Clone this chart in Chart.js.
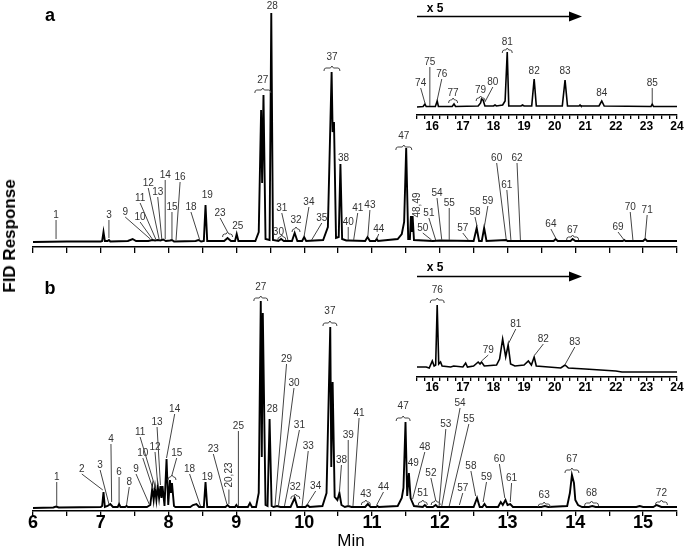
<!DOCTYPE html>
<html>
<head>
<meta charset="utf-8">
<title>FID chromatograms a / b</title>
<script src="https://cdn.jsdelivr.net/npm/chart.js@4.4.1/dist/chart.umd.min.js"></script>
<style>
  html, body { margin: 0; background: #fff; }
  #fig { position: relative; width: 685px; height: 549px; overflow: hidden; font-family: Arial, "Liberation Sans", sans-serif; }
  #fig canvas { position: absolute; }
  .txt { position: absolute; transform: translate(-50%, -50%); white-space: nowrap; color: #000; }
  #arrows { position: absolute; left: 0; top: 0; pointer-events: none; }
</style>
</head>
<body>
<div id="fig">
  <canvas id="mainA"  width="685" height="260" style="left:0;top:0"></canvas>
  <canvas id="mainB"  width="685" height="279" style="left:0;top:270px"></canvas>
  <canvas id="insetA" width="285" height="105" style="left:400px;top:30px"></canvas>
  <canvas id="insetB" width="285" height="120" style="left:400px;top:280px"></canvas>

  <div class="txt" style="left:50px;top:15px;font:bold 18px Arial">a</div>
  <div class="txt" style="left:50px;top:288px;font:bold 18px Arial">b</div>
  <div class="txt" style="left:10px;top:236px;font:bold 17px Arial;transform:translate(-50%,-50%) rotate(-90deg)">FID Response</div>
  <div class="txt" style="left:351px;top:541px;font:17px Arial">Min</div>
  <div class="txt" style="left:435px;top:8px;font:bold 12px Arial">x 5</div>
  <div class="txt" style="left:435px;top:267px;font:bold 12px Arial">x 5</div>

  <svg id="arrows" width="685" height="549">
    <line x1="417" y1="16.5" x2="570" y2="16.5" stroke="#000" stroke-width="1.5"/>
    <polygon points="569,11.5 582,16.5 569,21.5" fill="#000"/>
    <line x1="417" y1="276.5" x2="570" y2="276.5" stroke="#000" stroke-width="1.5"/>
    <polygon points="569,271.5 582,276.5 569,281.5" fill="#000"/>
  </svg>
</div>

<script>
'use strict';

// ── Data: retention time (min) vs. FID response (arbitrary units) ──
// panel a, 6 – 15.5 min
const traceA = [
  [6.0,0],[6.5,0.5],[7.0,0.5],[7.02,1],[7.04,10],[7.06,1],[7.10,1],[7.12,2],[7.14,0.5],
  [7.40,1],[7.47,3],[7.52,1],[7.70,1],[7.76,2],[7.80,1.5],[7.84,2],[7.88,1.5],[7.92,2.5],
  [7.96,1],[8.02,1.5],[8.05,2],[8.08,0.5],[8.40,1],[8.44,2],[8.48,0.5],[8.52,1],[8.545,37],
  [8.57,1],[8.82,1],[8.87,4],[8.92,1],[8.98,1],[9.005,8],[9.03,1],[9.28,1],[9.33,10],
  [9.365,132],[9.38,59],[9.40,147],[9.43,3],[9.49,2],[9.515,229],[9.54,2],[9.62,1],[9.66,3],
  [9.70,1],[9.82,1],[9.86,9],[9.90,1],[9.97,1],[10.0,5],[10.03,1],[10.28,2],[10.35,15],
  [10.405,170],[10.42,110],[10.44,120],[10.47,4],[10.51,5],[10.535,78],[10.56,3],[10.62,1.5],
  [10.66,1.5],[10.9,1],[10.935,5],[10.97,1],[11.05,1],[11.07,3],[11.09,1],[11.38,3],[11.44,8],
  [11.475,20],[11.505,94],[11.535,3],[11.56,3],[11.575,26],[11.59,10],[11.60,26],[11.62,2],
  [11.9,1],[12.0,1.5],[12.5,1],[12.545,14],[12.58,1],[12.62,1],[12.655,14],[12.69,1],
  [12.98,2],[13.0,1],[13.68,1],[13.71,3],[13.74,1],[13.93,1],[13.96,3],[14.0,1],[14.70,1],
  [14.72,2],[14.74,1],[15.0,1],[15.03,3],[15.06,1],[15.5,1],
];
// panel a inset (x5), 15.5 – 24 min
const traceA5 = [
  [15.5,0],[15.7,0.5],[15.76,3],[15.8,0.5],[16.1,0.5],[16.16,6],[16.2,0.5],[16.65,0.5],
  [16.71,3],[16.76,0.5],[17.5,1],[17.58,4],[17.61,8],[17.66,7],[17.72,1],[18.0,1],[18.05,2],
  [18.1,1],[18.3,2],[18.38,6],[18.45,55],[18.5,1],[18.9,1],[18.95,2],[19.0,1],[19.25,1],
  [19.33,28],[19.4,1],[20.25,1],[20.34,27],[20.42,1],[20.8,1],[20.83,2],[20.86,1],[21.45,1],
  [21.54,6],[21.62,1],[23.15,0.5],[23.19,3],[23.23,0.5],[24,0.5],
];
// panel b, 6 – 15.5 min
const traceB = [
  [6,0],[6.3,0.5],[6.34,1.5],[6.38,0.5],[7.0,1],[7.02,2],[7.04,16],[7.06,1],[7.10,2],[7.14,4],
  [7.18,1],[7.25,1],[7.27,4],[7.29,1],[7.36,1],[7.38,2],[7.40,1],[7.68,1],[7.73,3],[7.76,20],
  [7.78,8],[7.80,20],[7.82,8],[7.84,22],[7.86,10],[7.88,22],[7.895,10],[7.91,22],[7.94,2],
  [7.97,49],[7.995,3],[8.02,28],[8.035,15],[8.05,25],[8.08,2],[8.1,1],[8.32,1],[8.36,3],
  [8.41,4],[8.45,1],[8.52,1],[8.545,26],[8.57,1],[8.84,1],[8.87,3],[8.9,1],[8.98,1],[9.0,3],
  [9.02,1],[9.17,1],[9.2,5],[9.23,1],[9.29,1],[9.33,15],[9.36,207],[9.375,51],[9.39,195],
  [9.43,3],[9.46,2],[9.49,89],[9.52,2],[9.55,1],[9.6,2],[9.65,1],[9.8,1],[9.86,10],[9.9,1],
  [10.02,1],[10.05,3],[10.08,1],[10.27,2],[10.33,15],[10.385,181],[10.40,41],[10.42,126],
  [10.45,11],[10.49,8],[10.52,15],[10.55,3],[10.6,1],[10.65,2],[10.7,1],[10.9,1],[10.94,4],
  [10.98,1],[11.06,1],[11.08,2],[11.1,1],[11.38,2],[11.44,10],[11.465,20],[11.495,86],
  [11.52,12],[11.545,35],[11.57,10],[11.6,5],[11.62,2],[11.75,1],[11.78,3],[11.81,1],[11.9,1],
  [11.94,3],[11.97,1],[12.5,1],[12.55,10],[12.59,1],[12.63,1],[12.66,4],[12.69,1],[12.86,1],
  [12.9,6],[12.93,3],[12.97,8],[13.0,3],[13.04,4],[13.08,1],[13.5,1],[13.55,2],[13.6,1],
  [13.88,2],[13.92,15],[13.95,33],[13.98,25],[14.0,8],[14.04,3],[14.1,1],[14.2,1],[14.25,2],
  [14.3,1],[14.9,1],[14.95,2],[15.0,1],[15.15,1],[15.2,3],[15.27,1],[15.5,1],
];
// panel b inset (x5), 15.5 – 24 min
const traceB5 = [
  [15.5,0],[15.8,0],[15.9,-1],[16.0,6],[16.06,1],[16.11,2],[16.16,62],[16.21,3],[16.27,5],
  [16.32,1],[16.6,0],[16.7,1],[17.0,0],[17.09,4],[17.15,0],[17.35,1],[17.5,5],[17.56,3],
  [17.61,5],[17.7,1],[18.1,2],[18.2,8],[18.3,28],[18.4,10],[18.48,22],[18.56,3],[18.7,1],
  [19.0,2],[19.14,6],[19.24,2],[19.33,10],[19.4,1],[19.8,0],[20.2,-1],[20.34,2],[20.45,-1],
  [21.0,-2],[21.5,-3],[22.0,-4],[22.2,-5],[23.0,-5],[24,-5],
];

// ── Peak annotations: [text, labelT, labelH, mode, tipT, tipH, braceW] ──
// mode: plain | line (leader to tip) | brace (bracket at tip) | lbrace (leader + bracket) | rot
const peaksA = [
  ['1',6.34,27,'line',6.34,2], ['3',7.12,27,'line',7.12,3], ['9',7.36,30,'line',7.73,2],
  ['10',7.58,25,'line',7.76,2], ['11',7.58,44,'line',7.81,2], ['12',7.70,59,'line',7.86,2],
  ['13',7.84,50,'line',7.90,2], ['14',7.95,67,'line',7.95,2], ['15',8.05,35,'line',8.05,2],
  ['16',8.17,65,'line',8.11,1], ['18',8.33,35,'line',8.46,1], ['19',8.57,47,'plain'],
  ['23',8.76,29,'lbrace',8.87,8,10], ['25',9.02,16,'plain'], ['27',9.39,162,'brace',9.39,152,16],
  ['28',9.53,236,'plain'], ['30',9.62,10,'brace',9.67,5,8], ['31',9.67,34,'line',9.76,1],
  ['32',9.88,22,'brace',9.88,13,8], ['34',10.07,40,'line',10.0,5], ['35',10.26,24,'line',10.11,1],
  ['37',10.41,185,'brace',10.41,174,16], ['38',10.58,84,'plain'], ['40',10.65,20,'line',10.65,1],
  ['41',10.79,34,'line',10.73,1], ['43',10.97,37,'line',10.94,5], ['44',11.10,13,'line',11.07,2],
  ['47',11.47,106,'brace',11.47,95,16], ['48,49',11.67,37,'rot'], ['50',11.75,14,'line',11.88,1],
  ['51',11.84,29,'line',11.94,1], ['54',11.96,49,'line',12.03,1], ['55',12.14,39,'line',12.14,1],
  ['57',12.34,14,'line',12.42,1], ['58',12.52,30,'line',12.55,15], ['59',12.71,41,'line',12.66,15],
  ['60',12.84,84,'line',12.98,2], ['61',12.99,57,'line',13.05,1], ['62',13.14,84,'line',13.19,1],
  ['64',13.64,18,'line',13.71,3], ['67',13.96,12,'brace',13.96,5,12], ['69',14.63,15,'line',14.72,1],
  ['70',14.81,35,'line',14.85,1], ['71',15.06,32,'line',15.03,3],
];
const peaksA5 = [
  ['74',15.62,24,'line',15.76,3], ['75',15.92,45,'line',15.92,0], ['76',16.31,33,'line',16.16,6],
  ['77',16.68,14,'brace',16.68,7,9], ['79',17.58,17,'brace',17.58,9,9], ['80',17.98,25,'line',17.72,4],
  ['81',18.45,65,'brace',18.45,57,10], ['82',19.33,36,'plain'], ['83',20.34,36,'plain'],
  ['84',21.54,14,'plain'], ['85',23.19,24,'line',23.19,3],
];
const peaksB = [
  ['1',6.35,31,'line',6.35,1], ['2',6.72,39,'line',7.03,17], ['3',6.99,43,'line',7.12,3],
  ['4',7.15,69,'line',7.16,5], ['6',7.27,36,'line',7.27,4], ['8',7.42,26,'line',7.38,2],
  ['9',7.52,39,'line',7.72,2], ['10',7.62,55,'line',7.77,18], ['11',7.58,76,'line',7.81,18],
  ['12',7.80,61,'line',7.84,22], ['13',7.83,86,'line',7.88,22], ['14',8.09,99,'line',7.97,49],
  ['15',8.12,55,'lbrace',8.05,31,8], ['18',8.31,39,'line',8.47,1], ['19',8.57,31,'plain'],
  ['23',8.66,59,'line',8.86,3], ['20,23',8.89,33,'rot',8.89,3], ['25',9.03,82,'line',9.03,1],
  ['27',9.36,221,'brace',9.36,210,14], ['28',9.53,99,'plain'], ['29',9.74,149,'line',9.57,1],
  ['30',9.85,125,'line',9.62,1], ['31',9.93,83,'line',9.71,1], ['32',9.87,21,'brace',9.87,12,9],
  ['33',10.06,62,'line',9.97,1], ['34',10.17,22,'line',10.04,2], ['37',10.38,197,'brace',10.38,185,14],
  ['38',10.55,48,'line',10.52,15], ['39',10.65,73,'line',10.65,1], ['41',10.81,95,'line',10.72,1],
  ['43',10.91,14,'brace',10.91,6,9], ['44',11.17,21,'line',11.07,2], ['47',11.46,102,'brace',11.46,90,14],
  ['49',11.61,45,'plain'], ['48',11.78,61,'line',11.60,8], ['51',11.75,15,'brace',11.75,6,9],
  ['52',11.87,35,'lbrace',11.94,6,9], ['53',12.09,84,'line',11.99,1], ['54',12.30,105,'line',12.03,1],
  ['55',12.43,89,'line',12.14,1], ['57',12.34,20,'line',12.29,2], ['58',12.46,42,'line',12.53,11],
  ['59',12.69,31,'line',12.64,5], ['60',12.88,49,'line',12.96,9], ['61',13.06,30,'line',13.04,5],
  ['63',13.54,13,'brace',13.54,4,12], ['67',13.95,49,'brace',13.95,38,14], ['68',14.24,15,'brace',14.24,5,14],
  ['72',15.27,15,'brace',15.27,6,12],
];
const peaksB5 = [
  ['76',16.16,77,'brace',16.16,67,14], ['79',17.83,17,'line',17.61,5], ['81',18.73,43,'line',18.50,23],
  ['82',19.63,28,'line',19.35,11], ['83',20.66,25,'line',20.35,2],
];

// ── Drawing helpers ──────────────────────────────────────────────
function drawBrace(ctx, cx, cy, w) {
  const h = w / 2;
  ctx.beginPath();
  ctx.moveTo(cx - h, cy + 3);
  ctx.quadraticCurveTo(cx - h, cy, cx - h + 2, cy);
  ctx.lineTo(cx - 1.5, cy);
  ctx.lineTo(cx, cy - 2);
  ctx.lineTo(cx + 1.5, cy);
  ctx.lineTo(cx + h - 2, cy);
  ctx.quadraticCurveTo(cx + h, cy, cx + h, cy + 3);
  ctx.stroke();
}

// inline plugin: peak numbers, leader lines, brackets
function peakLabels(items) {
  return {
    id: 'peakLabels',
    afterDatasetsDraw(chart) {
      const { ctx, scales: { x, y } } = chart;
      ctx.save();
      ctx.font = '10px "Liberation Sans Narrow", Arial, sans-serif';
      ctx.fillStyle = '#333';
      ctx.strokeStyle = '#444';
      ctx.lineWidth = 1;
      ctx.textAlign = 'center';
      ctx.textBaseline = 'middle';
      items.forEach(([text, lt, lh, mode, tt, th, bw]) => {
        const lx = x.getPixelForValue(lt), ly = y.getPixelForValue(lh);
        let startY = ly + 5;
        if (mode === 'rot') {
          ctx.save();
          ctx.translate(lx, ly);
          ctx.rotate(-Math.PI / 2);
          ctx.fillText(text, 0, 0);
          ctx.restore();
          startY = ly + ctx.measureText(text).width / 2 + 2;
        } else {
          ctx.fillText(text, lx, ly);
        }
        if (tt === undefined) return;
        const px = x.getPixelForValue(tt), py = y.getPixelForValue(th);
        if (mode === 'line' || mode === 'rot') {
          ctx.beginPath(); ctx.moveTo(lx, startY); ctx.lineTo(px, py - 1); ctx.stroke();
        } else if (mode === 'brace') {
          drawBrace(ctx, px, py, bw || 12);
        } else if (mode === 'lbrace') {
          ctx.beginPath(); ctx.moveTo(lx, startY); ctx.lineTo(px, py - 2); ctx.stroke();
          drawBrace(ctx, px, py, bw || 12);
        }
      });
      ctx.restore();
    },
  };
}

// ── Chromatogram chart wrapper ───────────────────────────────────
function Chromatogram(canvasId, points, peaks, o) {
  const canvas = document.getElementById(canvasId);
  return new Chart(canvas.getContext('2d'), {
    type: 'line',
    data: {
      datasets: [{
        data: points.map(([x, y]) => ({ x, y })),
        borderColor: '#000',
        borderWidth: o.lineW,
        pointRadius: 0,
        tension: 0,
        fill: false,
        clip: false,
      }],
    },
    options: {
      responsive: false,
      animation: false,
      events: [],
      layout: { padding: o.padding },
      plugins: { legend: { display: false }, tooltip: { enabled: false } },
      scales: {
        x: {
          type: 'linear',
          min: o.xMin, max: o.xMax,
          afterFit: s => { s.height = o.axisH; },
          grid: { drawOnChartArea: false, color: '#000', lineWidth: 1.3, tickLength: o.tickLen },
          border: { display: true, color: '#000', width: 1.5 },
          ticks: {
            display: o.showLabels,
            stepSize: o.step,
            autoSkip: false,
            maxRotation: 0,
            padding: o.labelPad,
            color: '#000',
            font: { family: 'Arial', size: o.fontSize, weight: 'bold' },
            callback: v => Number.isInteger(v) ? String(v) : '',
          },
        },
        y: { display: false, min: o.yMin, max: o.yMax },
      },
    },
    plugins: [peakLabels(peaks)],
  });
}

Chromatogram('mainA', traceA, peaksA, {
  xMin: 6, xMax: 15.5, yMin: -5, yMax: 237, step: 0.5, lineW: 1.9,
  padding: { left: 33, right: 8, top: 5, bottom: 0 }, axisH: 13, tickLen: 6,
  showLabels: false, labelPad: 0, fontSize: 18,
});
Chromatogram('mainB', traceB, peaksB, {
  xMin: 6, xMax: 15.5, yMin: -3, yMax: 210, step: 0.5, lineW: 1.9,
  padding: { left: 33, right: 8, top: 28, bottom: 0 }, axisH: 38, tickLen: 5,
  showLabels: true, labelPad: -4, fontSize: 18,
});
Chromatogram('insetA', traceA5, peaksA5, {
  xMin: 15.5, xMax: 24, yMin: -8, yMax: 60, step: 0.25, lineW: 1.6,
  padding: { left: 17, right: 8, top: 17, bottom: 0 }, axisH: 20, tickLen: 4,
  showLabels: true, labelPad: 0, fontSize: 12,
});
Chromatogram('insetB', traceB5, peaksB5, {
  xMin: 15.5, xMax: 24, yMin: -10, yMax: 65, step: 0.25, lineW: 1.6,
  padding: { left: 17, right: 8, top: 22, bottom: 0 }, axisH: 23, tickLen: 4,
  showLabels: true, labelPad: -1, fontSize: 12,
});
</script>
</body>
</html>
